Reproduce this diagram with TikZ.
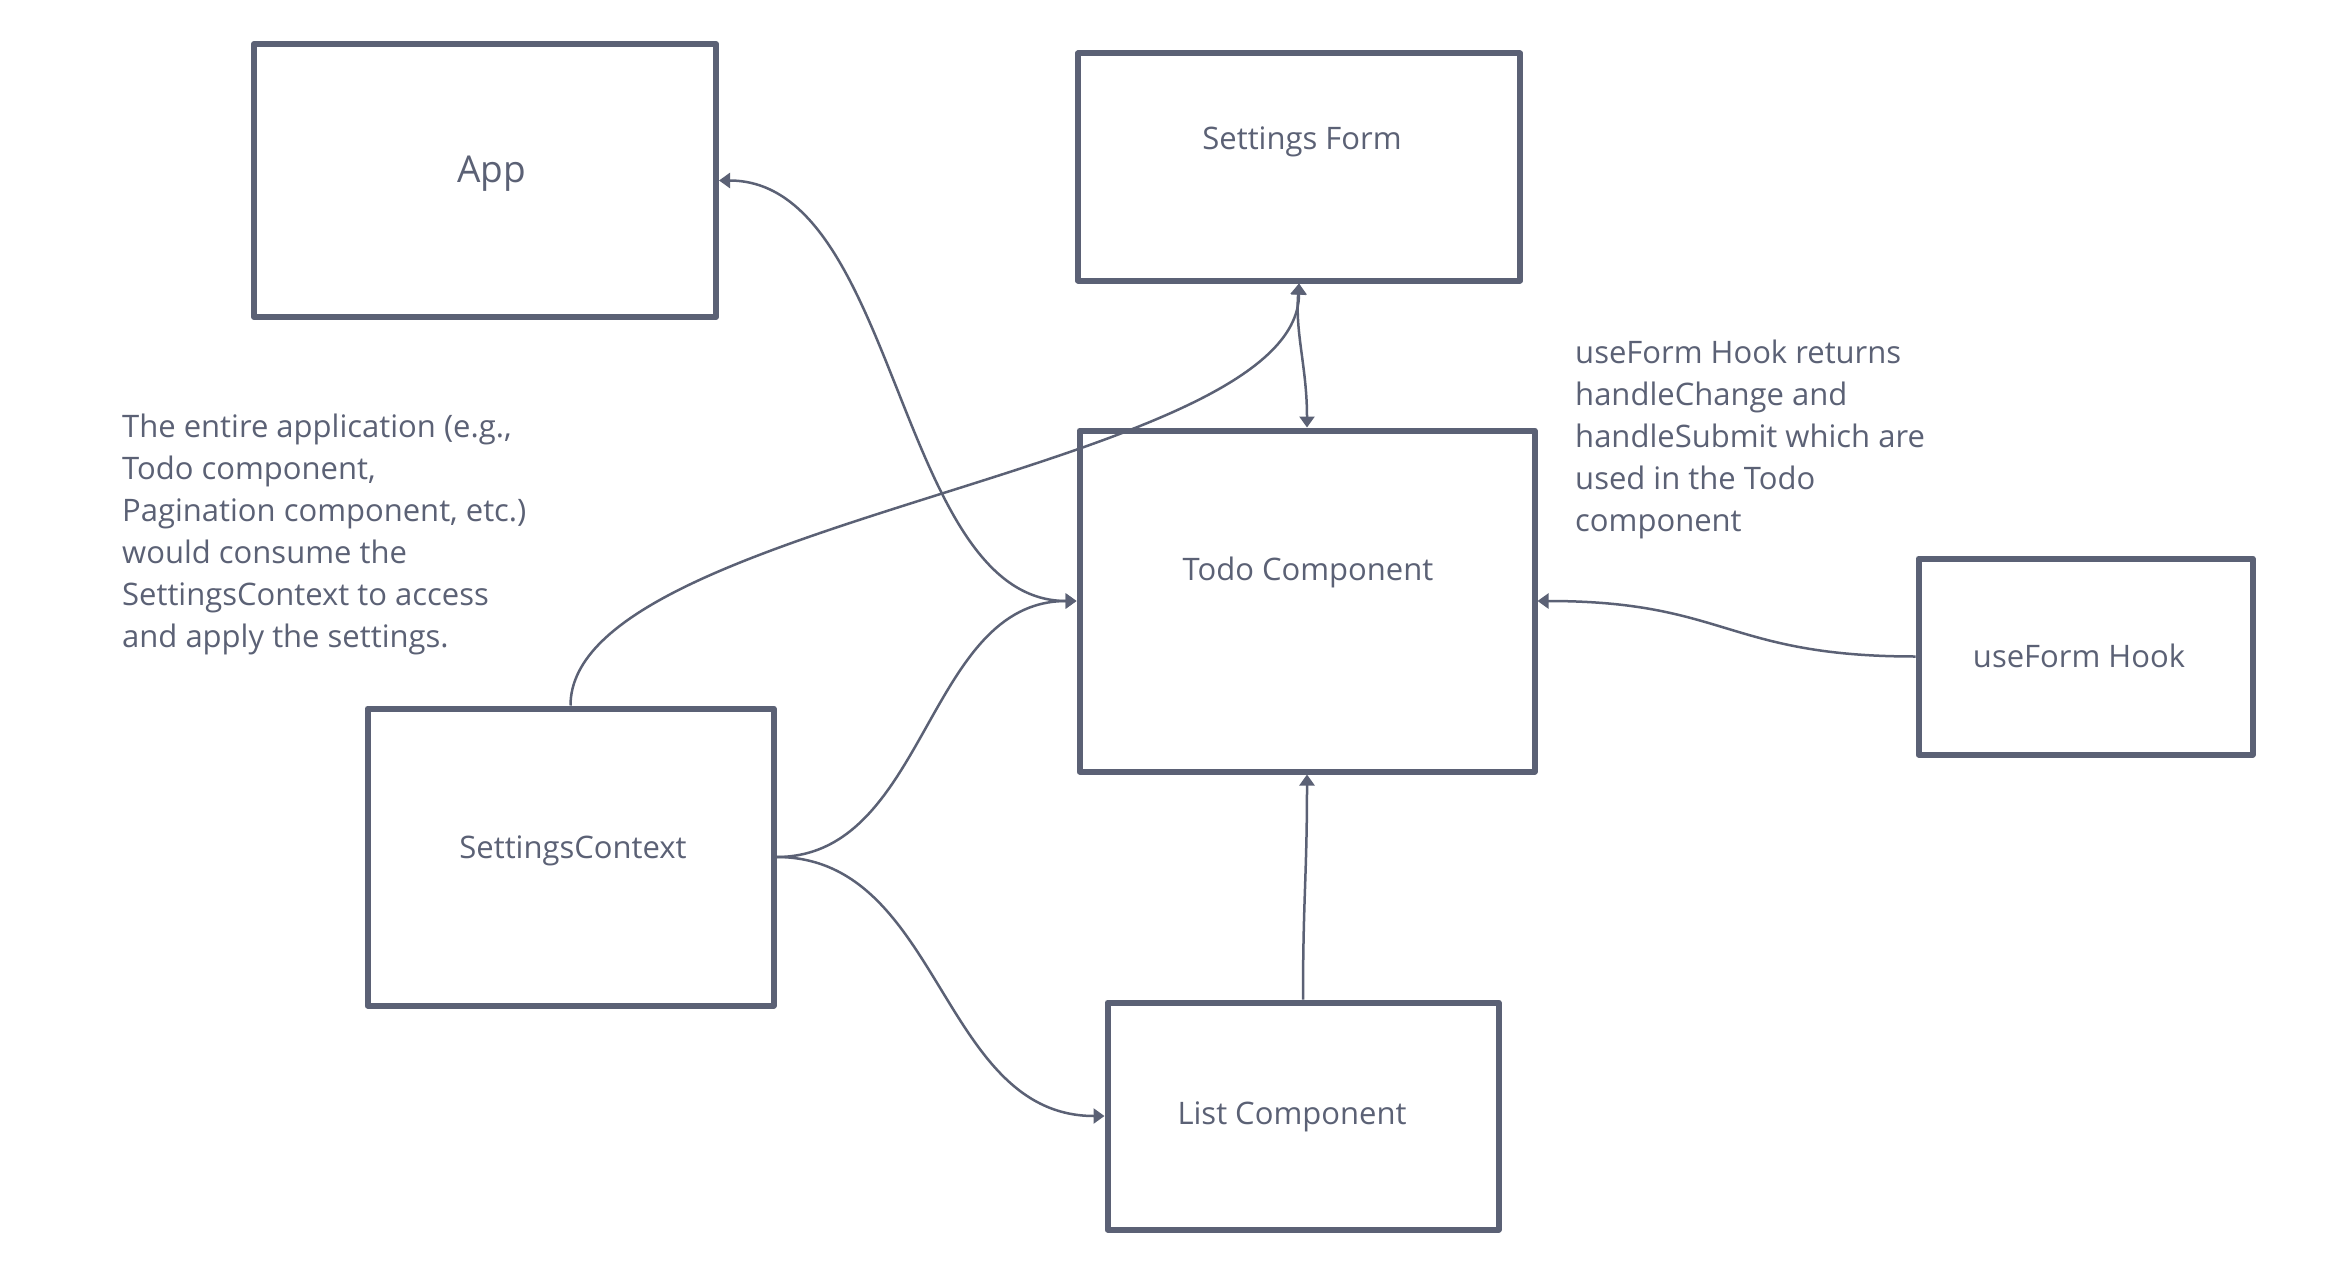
\documentclass[tikz,border=0pt]{standalone}
\usepackage{fontspec}
\setmainfont{Open Sans}
\usetikzlibrary{arrows.meta}
\definecolor{ink}{RGB}{91,97,117}
\begin{document}
\begin{tikzpicture}[x=1pt,y=-1pt,
  box/.style={draw=ink, line width=6pt, line join=round, rectangle, inner sep=0pt, minimum width=#1},
  lbl/.style={text=ink, inner sep=0pt, anchor=base, font=\fontsize{31}{42}\selectfont},
  note/.style={text=ink, inner sep=0pt, anchor=base west, font=\fontsize{31}{42}\selectfont},
  conn/.style={draw=ink, line width=2.5pt},
  tipend/.style={-{Triangle[length=11pt,width=15pt]}},
  tipboth/.style={{Triangle[length=11pt,width=15pt]}-{Triangle[length=11pt,width=15pt]}}
]
\useasboundingbox[fill=white] (0,0) rectangle (2334,1284);

% boxes
\node[box=462pt, minimum height=273pt] (app)  at (485,180.5) {};
\node[box=442pt, minimum height=227pt] (sf)   at (1299,167) {};
\node[box=455pt, minimum height=341pt] (todo) at (1307,601) {};
\node[box=334pt, minimum height=196pt] (uf)   at (2085.5,656.5) {};
\node[box=406pt, minimum height=297pt] (sc)   at (570.5,857) {};
\node[box=391pt, minimum height=227pt] (list) at (1303,1116) {};

% labels
\node[lbl, font=\fontsize{37}{44}\selectfont] (appl) at (491.5,183) {App};
\node[lbl] (sfl)   at (1302,150) {Settings Form};
\node[lbl] (todol) at (1308,580) {Todo Component};
\node[lbl] (ufl)   at (2079,667) {useForm Hook};
\node[lbl] (scl)   at (573,858) {SettingsContext};
\node[lbl] (listl) at (1292,1124) {List Component};

% notes
\node[note] (leftnote) at (122,437.5) {\begin{tabular}[t]{@{}l@{}}The entire application (e.g.,\\Todo component,\\Pagination component, etc.)\\would consume the\\SettingsContext to access\\and apply the settings.\end{tabular}};
\node[note] (rightnote) at (1575,363) {\begin{tabular}[t]{@{}l@{}}useForm Hook returns\\handleChange and\\handleSubmit which are\\used in the Todo\\component\end{tabular}};

% connectors
\draw[conn, tipboth] (app.east) .. controls +(180,0) and +(-180,0) .. (todo.west);
\draw[conn, tipend] (sc.north) .. controls +(0,-187) and +(0,187) .. (sf.south);
\draw[conn, tipboth] (sf.south) .. controls +(-4,50) and +(0,-60) .. (todo.north);
\draw[conn, tipend] (sc.east) .. controls +(151,0) and +(-151,0) .. (todo.west);
\draw[conn, tipend] (sc.east) .. controls +(165,0) and +(-165,0) .. (list.west);
\draw[conn, tipend] (list.north) .. controls +(0,-100) and +(0,100) .. (todo.south);
\draw[conn, tipend] (uf.west) .. controls +(-189,0) and +(189,0) .. (todo.east);
\end{tikzpicture}
\end{document}
